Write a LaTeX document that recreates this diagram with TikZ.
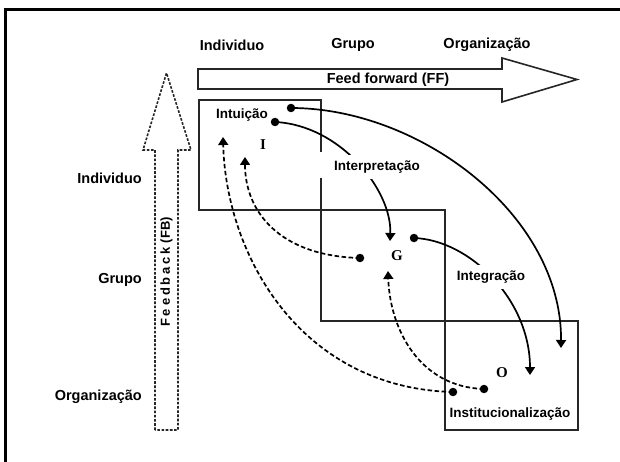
\documentclass[tikz,border=0pt]{standalone}
\usepackage{fontspec}
\setmainfont{Liberation Sans}
\newfontfamily\serifb{Liberation Serif}
\usetikzlibrary{arrows.meta}
\tikzset{
  lbl/.style={font=\bfseries\fontsize{14.5}{17}\selectfont, inner sep=0pt},
  inlbl/.style={font=\bfseries\fontsize{13.5}{16}\selectfont, inner sep=0pt},
  cutlbl/.style={inlbl, fill=white, inner xsep=3pt, inner ysep=6pt},
  letter/.style={font=\serifb\bfseries\fontsize{15}{17}\selectfont, inner sep=0pt},
  dot/.style={circle, fill=black, inner sep=0pt, minimum size=8.5pt},
  boxline/.style={line width=1.8pt, black!85},
  bigarrow/.style={line width=1.6pt, black!85, line join=miter},
  flow/.style={line width=1.7pt, -{Triangle[width=10pt,length=8pt]}},
  back/.style={flow, dash pattern=on 4.5pt off 2.5pt},
}
\begin{document}
\begin{tikzpicture}[x=1pt,y=-1pt]
\useasboundingbox (0,0) rectangle (620,462);
\fill[white] (0,0) rectangle (620,462);
% frame
\draw[line width=3pt] (5,462) -- (5,9.5) -- (620,9.5);
% header labels
\node[lbl] (hI) at (232,45) {Individuo};
\node[lbl] (hG) at (353,45) {Grupo};
\node[lbl] (hO) at (487,45) {Organização};
% side labels
\node[lbl, anchor=east] (sI) at (142,178) {Individuo};
\node[lbl, anchor=east] (sG) at (142,280) {Grupo};
\node[lbl, anchor=east] (sO) at (142,397) {Organização};
% feed forward arrow
\draw[bigarrow] (198,69) -- (502,69) -- (502,58) -- (577,79.5) -- (502,102) -- (502,89) -- (198,89) -- cycle;
\node[inlbl, font=\bfseries\fontsize{14.5}{17}\selectfont] (fft) at (388,79.5) {Feed forward (FF)};
% feedback arrow
\draw[bigarrow, dash pattern=on 2.6pt off 1.6pt] (155,430) -- (155,150) -- (143,150) -- (166.5,73) -- (191,150) -- (178,150) -- (178,430) -- cycle;
\node[inlbl, rotate=90, font=\bfseries\fontsize{13}{16}\selectfont] (fbt) at (166.5,272) {{\addfontfeature{LetterSpace=22}Feedback}\ (FB)};
% boxes
\draw[boxline] (321,152) -- (321,100) -- (199,100) -- (199,210) -- (445,210) -- (445,430) -- (578,430) -- (578,321) -- (321,321) -- (321,178);
% level labels
\node[inlbl] (intu) at (242,115) {Intuição};
\node[inlbl] (inst) at (510,414) {Institucionalização};
\node[letter] (lI) at (263,145) {I};
\node[letter] (lG) at (397,256) {G};
\node[letter] (lO) at (502,373) {O};
% dots and tips
\node[dot] (a1) at (291,108) {};
\node[dot] (a2) at (275,122) {};
\node[dot] (g1) at (414,238) {};
\node[dot] (g2) at (360,258) {};
\node[dot] (o1) at (453,392) {};
\node[dot] (o2) at (484,389) {};
\coordinate (t1) at (223,137);
\coordinate (t2) at (245,157);
\coordinate (tg) at (390,241);
\coordinate (tgu) at (388,271);
\coordinate (to) at (530,375);
\coordinate (tor) at (561,348);
% solid feed-forward curves
\draw[flow] (a2.center) .. controls (340,125) and (392,190) .. (tg);
\draw[flow] (a1.center) .. controls (420,108) and (562,215) .. (tor);
\draw[flow] (g1.center) .. controls (470,240) and (530,300) .. (to);
% dashed feedback curves
\draw[back] (o1.center) .. controls (300,388) and (226,255) .. (t1);
\draw[back] (o2.center) .. controls (420,387) and (390,330) .. (tgu);
\draw[back] (g2.center) .. controls (280,256) and (245,212) .. (t2);
% labels cutting the curves
\node[cutlbl] (interp) at (377,167) {Interpretação};
\node[cutlbl] (integ) at (491,277) {Integração};
\end{tikzpicture}
\end{document}
